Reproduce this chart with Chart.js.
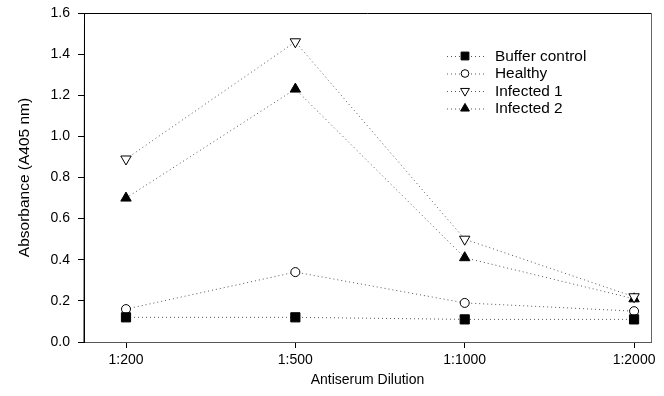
<!DOCTYPE html>
<html>
<head>
<meta charset="utf-8">
<script src="https://cdn.jsdelivr.net/npm/chart.js@4.4.1/dist/chart.umd.min.js"></script>
<style>
html,body{margin:0;padding:0;background:#fff;}
#wrap{width:664px;height:396px;position:relative;}
</style>
</head>
<body>
<div id="wrap"><canvas id="c" width="664" height="396"></canvas></div>
<script>
const categories = ["1:200", "1:500", "1:1000", "1:2000"];
const bufferControl = [0.12, 0.12, 0.11, 0.11];
const healthy = [0.16, 0.34, 0.19, 0.15];
const infected1 = [0.89, 1.46, 0.50, 0.22];
const infected2 = [0.70, 1.23, 0.41, 0.21];
const yTicks = [0.0, 0.2, 0.4, 0.6, 0.8, 1.0, 1.2, 1.4, 1.6];

const FONT = "'Liberation Sans', Arial, sans-serif";
const toPts = arr => arr.map((v, i) => ({x: i, y: v}));

function ds(label, values, style, fill, rot, radius) {
  return {
    label: label,
    data: toPts(values),
    borderColor: '#555',
    borderWidth: 1,
    borderDash: [1, 3],
    pointStyle: style,
    pointRotation: rot,
    pointRadius: radius,
    pointHoverRadius: radius,
    pointBackgroundColor: fill,
    pointBorderColor: '#000',
    pointBorderWidth: 1,
    tension: 0,
    fill: false
  };
}

const datasets = [
  ds('Buffer control', bufferControl, 'rect', '#000', 0, 6.5),
  ds('Healthy', healthy, 'circle', '#fff', 0, 4.5),
  ds('Infected 1', infected1, 'triangle', '#fff', 180, 6),
  ds('Infected 2', infected2, 'triangle', '#000', 0, 6)
];

const frame = {
  id: 'frame',
  afterDraw(chart) {
    const {ctx, chartArea: a} = chart;
    ctx.save();
    ctx.lineWidth = 1;
    ctx.strokeStyle = '#000';
    ctx.beginPath();
    ctx.moveTo(a.left, a.bottom + 0.5);
    ctx.lineTo(a.left + 0.5, a.top + 0.5);
    ctx.lineTo(a.right, a.top + 0.5);
    ctx.stroke();
    ctx.strokeStyle = '#666';
    ctx.beginPath();
    ctx.moveTo(a.right + 0.5, a.top);
    ctx.lineTo(a.right + 0.5, a.bottom);
    ctx.stroke();
    // legend
    const x0 = 447, x1 = 484, mx = 465, tx = 495;
    const rows = [56, 73.5, 91, 108.5];
    ctx.font = '14px ' + FONT;
    ctx.textBaseline = 'middle';
    ctx.textAlign = 'left';
    chart.data.datasets.forEach((d, i) => {
      const y = rows[i];
      ctx.save();
      ctx.strokeStyle = '#555';
      ctx.setLineDash([1, 3]);
      ctx.beginPath();
      ctx.moveTo(x0, y + 0.5);
      ctx.lineTo(x1, y + 0.5);
      ctx.stroke();
      ctx.restore();
      ctx.save();
      ctx.fillStyle = d.pointBackgroundColor;
      ctx.strokeStyle = '#000';
      ctx.lineWidth = 1;
      Chart.helpers.drawPoint(ctx, {pointStyle: d.pointStyle, rotation: d.pointRotation, radius: d.pointRadius * 0.85, borderWidth: 1}, mx, y);
      ctx.restore();
      ctx.save();
      ctx.fillStyle = '#000';
      ctx.translate(tx, y + 1);
      ctx.scale(1.1, 1);
      ctx.fillText(d.label, 0, 0);
      ctx.restore();
    });
    ctx.restore();
  }
};

new Chart(document.getElementById('c'), {
  type: 'line',
  data: {datasets: datasets},
  plugins: [frame],
  options: {
    responsive: false,
    animation: false,
    layout: {padding: {top: 13, right: 13, left: 0, bottom: 0}},
    plugins: {legend: {display: false}, tooltip: {enabled: false}},
    scales: {
      x: {
        type: 'linear',
        min: -0.248,
        max: 3.10,
        afterBuildTicks(s) { s.ticks = categories.map((c, i) => ({value: i})); },
        afterFit(s) { s.height = 54; s.paddingLeft = 0; s.paddingRight = 0; },
        ticks: {
          callback: (v) => categories[v],
          color: '#000',
          font: {family: FONT, size: 14},
          padding: 4,
          maxRotation: 0,
          autoSkip: false
        },
        grid: {drawOnChartArea: false, drawTicks: true, tickLength: 6, color: '#000'},
        border: {display: true, color: '#555', width: 1},
        title: {display: true, text: 'Antiserum Dilution', color: '#000', font: {family: FONT, size: 14}, padding: {top: 4, bottom: 7}}
      },
      y: {
        type: 'linear',
        min: 0,
        max: 1.6,
        afterBuildTicks(s) { s.ticks = yTicks.map(v => ({value: v})); },
        afterFit(s) { s.width = 84; s.paddingTop = 0; s.paddingBottom = 0; },
        ticks: {
          callback: (v) => Number(v).toFixed(1),
          color: '#000',
          font: {family: FONT, size: 14},
          padding: 8
        },
        grid: {drawOnChartArea: false, drawTicks: true, tickLength: 6, color: '#000'},
        border: {display: true, color: '#000', width: 1},
        title: {display: true, text: 'Absorbance (A405 nm)', color: '#000', font: {family: FONT, size: 15.5}, padding: {top: 15, bottom: 0}}
      }
    }
  }
});
</script>
</body>
</html>
